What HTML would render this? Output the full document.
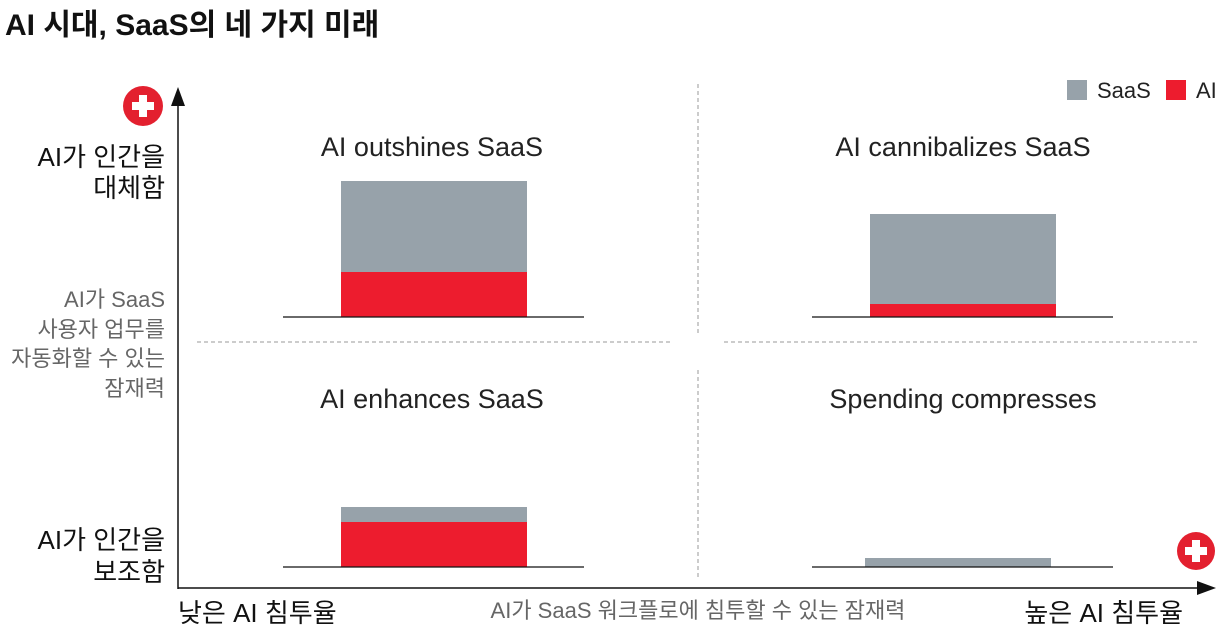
<!DOCTYPE html>
<html><head><meta charset="utf-8"><style>
html,body{margin:0;padding:0;background:#fff}
svg{display:block}
text{font-family:"Liberation Sans","Noto Sans CJK KR",sans-serif}
</style></head><body>
<svg width="1228" height="634" viewBox="0 0 1228 634" xmlns="http://www.w3.org/2000/svg">
<text x="5" y="35" font-size="30" font-weight="bold" fill="#111">AI 시대, SaaS의 네 가지 미래</text>
<!-- legend -->
<rect x="1067" y="80" width="20" height="20" fill="#97a2aa"/>
<text x="1097" y="98" font-size="22" fill="#222">SaaS</text>
<rect x="1166" y="80" width="20" height="20" fill="#ed1c2e"/>
<text x="1196" y="98" font-size="22" fill="#222">AI</text>
<!-- axes -->
<line x1="178" y1="100" x2="178" y2="589" stroke="#111" stroke-width="1.5"/>
<polygon points="178,87 171,106 185,106" fill="#111"/>
<line x1="178" y1="588" x2="1200" y2="588" stroke="#111" stroke-width="1.5"/>
<polygon points="1216,588 1197,581 1197,595" fill="#111"/>
<!-- plus icons -->
<g transform="translate(143,106)"><circle r="20" fill="#e3202f"/><rect x="-11" y="-4" width="22" height="8" fill="#fff"/><rect x="-4" y="-11" width="8" height="22" fill="#fff"/></g>
<g transform="translate(1196,551)"><circle r="19" fill="#e3202f"/><rect x="-11" y="-4" width="22" height="8" fill="#fff"/><rect x="-4" y="-11" width="8" height="22" fill="#fff"/></g>
<!-- dashed dividers -->
<g stroke="#999" stroke-width="1" stroke-dasharray="4,3">
<line x1="197" y1="342" x2="672" y2="342"/>
<line x1="724" y1="342" x2="1200" y2="342"/>
<line x1="698" y1="84" x2="698" y2="335"/>
<line x1="698" y1="370" x2="698" y2="578"/>
</g>
<!-- y labels -->
<g text-anchor="end" font-size="26" fill="#111">
<text x="165" y="166">AI가 인간을</text>
<text x="165" y="197">대체함</text>
<text x="165" y="549">AI가 인간을</text>
<text x="165" y="581">보조함</text>
</g>
<g text-anchor="end" font-size="22" fill="#666">
<text x="165" y="307">AI가 SaaS</text>
<text x="165" y="337">사용자 업무를</text>
<text x="165" y="366">자동화할 수 있는</text>
<text x="165" y="396">잠재력</text>
</g>
<!-- quadrant titles -->
<g text-anchor="middle" font-size="27" fill="#222">
<text x="432" y="156">AI outshines SaaS</text>
<text x="963" y="156">AI cannibalizes SaaS</text>
<text x="432" y="408">AI enhances SaaS</text>
<text x="963" y="408">Spending compresses</text>
</g>
<!-- bars -->
<rect x="341" y="181" width="186" height="91" fill="#97a2aa"/>
<rect x="341" y="272" width="186" height="45" fill="#ed1c2e"/>
<line x1="283" y1="317" x2="584" y2="317" stroke="#111" stroke-width="1.2"/>
<rect x="870" y="214" width="186" height="90" fill="#97a2aa"/>
<rect x="870" y="304" width="186" height="13" fill="#ed1c2e"/>
<line x1="812" y1="317" x2="1113" y2="317" stroke="#111" stroke-width="1.2"/>
<rect x="341" y="507" width="186" height="15" fill="#97a2aa"/>
<rect x="341" y="522" width="186" height="45" fill="#ed1c2e"/>
<line x1="283" y1="567" x2="584" y2="567" stroke="#111" stroke-width="1.2"/>
<rect x="865" y="558" width="186" height="9" fill="#97a2aa"/>
<line x1="812" y1="567" x2="1113" y2="567" stroke="#111" stroke-width="1.2"/>
<!-- x labels -->
<text x="178" y="622" font-size="26" fill="#111">낮은 AI 침투율</text>
<text x="698" y="618" font-size="22" fill="#666" text-anchor="middle">AI가 SaaS 워크플로에 침투할 수 있는 잠재력</text>
<text x="1183" y="622" font-size="26" fill="#111" text-anchor="end">높은 AI 침투율</text>
</svg>
</body></html>
